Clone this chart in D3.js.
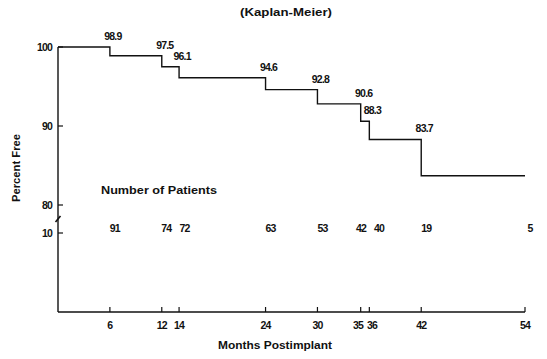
<!DOCTYPE html>
<html>
<head>
<meta charset="utf-8">
<script src="https://cdn.jsdelivr.net/npm/d3@7"></script>
<style>
  html, body { margin: 0; padding: 0; background: #fff; }
  svg { display: block; }
  text { font-family: "Liberation Sans", Arial, sans-serif; fill: #111; }
</style>
</head>
<body>
<script>
// ---- data ----
const stepMonths = [0, 6, 12, 14, 24, 30, 35, 36, 42, 54];
const stepValues = [100, 98.9, 97.5, 96.1, 94.6, 92.8, 90.6, 88.3, 83.7, 83.7];
const labelMonths = [6, 12, 14, 24, 30, 35, 36, 42];
const labelValues = ["98.9", "97.5", "96.1", "94.6", "92.8", "90.6", "88.3", "83.7"];
const tickMonths = [6, 12, 14, 24, 30, 35, 36, 42, 54];
const patientCounts = [91, 74, 72, 63, 53, 42, 40, 19, 5];
const yUpperTicks = [100, 90, 80];
const yLowerTicks = [10];
const title = "(Kaplan-Meier)";
const xTitle = "Months Postimplant";
const yTitle = "Percent Free";
const patientsTitle = "Number of Patients";

// ---- layout ----
const W = 547, H = 359;
const svg = d3.select("body").append("svg").attr("width", W).attr("height", H);

const x = d3.scaleLinear().domain([0, 54]).range([58, 525]);
const yU = d3.scaleLinear().domain([80, 100]).range([205, 47]);
const yL = d3.scaleLinear().domain([0, 10]).range([312, 233]);

const ink = "#111";
const numStyle = sel => sel.attr("font-size", 10.5).attr("font-weight", "bold").attr("letter-spacing", "-0.8");

// push apart horizontally overlapping middle-anchored labels in a row
function spread(sel, gap) {
  const nodes = sel.nodes();
  const items = nodes.map(n => ({n, x: +n.getAttribute("x"), w: n.getComputedTextLength()}));
  for (let iter = 0; iter < 10; iter++) {
    for (let i = 1; i < items.length; i++) {
      const a = items[i - 1], b = items[i];
      const need = (a.w + b.w) / 2 + gap - (b.x - a.x);
      if (need > 0) { a.x -= need / 2; b.x += need / 2; }
    }
  }
  items.forEach(it => it.n.setAttribute("x", it.x));
}

// y axis line
svg.append("line").attr("x1", x(0)).attr("x2", x(0))
  .attr("y1", yU(100)).attr("y2", yL(0))
  .attr("stroke", ink).attr("stroke-width", 1.4);
// axis break mark
svg.append("line").attr("x1", x(0) - 2.5).attr("x2", x(0) + 2.5)
  .attr("y1", 222).attr("y2", 216)
  .attr("stroke", ink).attr("stroke-width", 1.6);

// x axis line
svg.append("line").attr("x1", x(0)).attr("x2", x(54))
  .attr("y1", yL(0)).attr("y2", yL(0))
  .attr("stroke", ink).attr("stroke-width", 1.4);

// x ticks (pointing up) + labels
const xt = svg.append("g");
xt.selectAll("line").data(tickMonths).join("line")
  .attr("x1", d => x(d)).attr("x2", d => x(d))
  .attr("y1", yL(0)).attr("y2", yL(0) - 5)
  .attr("stroke", ink).attr("stroke-width", 1.2);
const xLabels = xt.selectAll("text").data(tickMonths).join("text")
  .attr("x", d => x(d)).attr("y", yL(0) + 17)
  .attr("text-anchor", "middle").call(numStyle)
  .text(d => d);
spread(xLabels, 4);

// y ticks (pointing right) + labels
const yt = svg.append("g");
const yTickData = yUpperTicks.map(v => ({v, y: yU(v)})).concat(yLowerTicks.map(v => ({v, y: yL(v)})));
yt.selectAll("line").data(yTickData).join("line")
  .attr("x1", x(0)).attr("x2", x(0) + 5)
  .attr("y1", d => d.y).attr("y2", d => d.y)
  .attr("stroke", ink).attr("stroke-width", 1.2);
yt.selectAll("text").data(yTickData).join("text")
  .attr("x", x(0) - 6).attr("y", d => d.y).attr("dy", "0.35em")
  .attr("text-anchor", "end").call(numStyle)
  .text(d => d.v);

// survival step curve
const pts = stepMonths.map((m, i) => [m, stepValues[i]]);
svg.append("path")
  .attr("d", d3.line().x(d => x(d[0])).y(d => yU(d[1])).curve(d3.curveStepAfter)(pts))
  .attr("fill", "none").attr("stroke", ink).attr("stroke-width", 1.4);

// step value labels (above previous level at each drop)
svg.append("g").selectAll("text").data(labelMonths).join("text")
  .attr("x", d => x(d) + 3)
  .attr("y", (d, i) => yU(stepValues[i]) - 7)
  .attr("text-anchor", "middle").call(numStyle)
  .text((d, i) => labelValues[i]);

// number of patients
svg.append("text").attr("x", 101).attr("y", 194)
  .attr("font-size", 11).attr("font-weight", "bold")
  .attr("textLength", 116).attr("lengthAdjust", "spacingAndGlyphs")
  .text(patientsTitle);
const pLabels = svg.append("g").selectAll("text").data(patientCounts).join("text")
  .attr("x", (d, i) => x(tickMonths[i]) + 5).attr("y", 232)
  .attr("text-anchor", "middle").call(numStyle)
  .text(d => d);
spread(pLabels, 8);

// titles
svg.append("text").attr("x", 286).attr("y", 16)
  .attr("text-anchor", "middle").attr("font-size", 11).attr("font-weight", "bold")
  .attr("textLength", 92).attr("lengthAdjust", "spacingAndGlyphs")
  .text(title);
svg.append("text").attr("x", 275).attr("y", 349)
  .attr("text-anchor", "middle").attr("font-size", 11).attr("font-weight", "bold")
  .attr("textLength", 114).attr("lengthAdjust", "spacingAndGlyphs")
  .text(xTitle);
svg.append("text")
  .attr("transform", "translate(20,168) rotate(-90)")
  .attr("text-anchor", "middle").attr("font-size", 11).attr("font-weight", "bold")
  .attr("textLength", 68).attr("lengthAdjust", "spacingAndGlyphs")
  .text(yTitle);
</script>
</body>
</html>
